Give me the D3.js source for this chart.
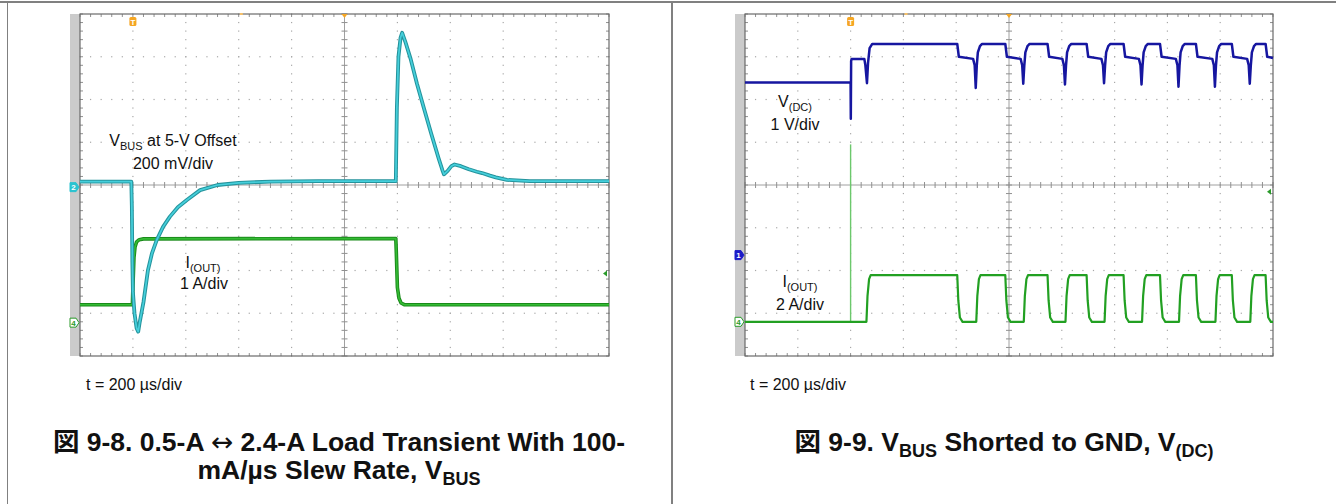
<!DOCTYPE html>
<html>
<head>
<meta charset="utf-8">
<script src="https://cdn.jsdelivr.net/npm/d3@7"></script>
<style>
body { margin: 0; background: #fff; }
text { font-family: "Liberation Sans", Arial, "Noto Sans CJK JP", sans-serif; fill: #111; }
</style>
</head>
<body>
<div id="fig"></div>
<script>
// all traces: [time in divisions (0..10), level in divisions from screen centre (-4..4)]

// Fig 9-8, VBUS at 5-V offset, 200 mV/div
var vbusPts = [[0,0.08],[0.97,0.08],[0.98,-0.5],[0.99,-1.8],[1.0,-2.5],[1.03,-3.0],[1.07,-3.35],[1.10,-3.43],
  [1.13,-3.2],[1.2,-2.74],[1.285,-1.99],[1.36,-1.6],[1.45,-1.29],[1.57,-0.98],[1.70,-0.74],[1.85,-0.52],
  [2.02,-0.35],[2.27,-0.12],[2.6,0.0],[3.0,0.05],[3.6,0.08],[4.5,0.09],[5.97,0.09],[5.99,1.8],[6.02,3.0],
  [6.06,3.45],[6.09,3.56],[6.15,3.35],[6.25,2.95],[6.37,2.37],[6.5,1.8],[6.64,1.2],[6.78,0.62],[6.85,0.35],
  [6.88,0.25],[6.95,0.33],[7.02,0.44],[7.08,0.48],[7.2,0.44],[7.35,0.37],[7.5,0.31],[7.6,0.28],[7.75,0.22],
  [7.86,0.18],[8.07,0.12],[8.5,0.09],[10,0.09]];

// Fig 9-8, I(OUT), 1 A/div
var ioutPts = [[0,-2.8],[0.99,-2.8],[1.0,-2.4],[1.02,-1.7],[1.04,-1.45],[1.07,-1.33],[1.12,-1.28],[1.2,-1.26],
  [5.97,-1.25],[5.98,-1.6],[6.0,-2.4],[6.03,-2.65],[6.07,-2.76],[6.13,-2.8],[10,-2.8]];

// Fig 9-9, V(DC), 1 V/div
var vdcPts = [[0,2.4],[2.0,2.4],[2.004,1.55],[2.01,2.9],[2.02,2.95],[2.26,2.95],[2.28,2.8],[2.31,2.38],[2.33,2.85],[2.36,3.2],[2.41,3.3],
  [4.02,3.3],[4.05,3.0],[4.32,2.95],[4.35,2.8],[4.37,2.27],[4.39,2.8],[4.41,3.1],[4.45,3.25],[4.49,3.3],
  [4.93,3.3],[4.96,3.0],[5.22,2.95],[5.25,2.8],[5.27,2.37],[5.29,2.8],[5.31,3.1],[5.35,3.25],[5.39,3.3],
  [5.73,3.3],[5.76,3.0],[6.01,2.95],[6.04,2.8],[6.06,2.35],[6.08,2.8],[6.10,3.1],[6.14,3.25],[6.18,3.3],
  [6.47,3.3],[6.50,3.0],[6.75,2.95],[6.78,2.8],[6.80,2.38],[6.82,2.8],[6.84,3.1],[6.88,3.25],[6.92,3.3],
  [7.17,3.3],[7.20,3.0],[7.46,2.95],[7.49,2.8],[7.51,2.35],[7.53,2.8],[7.55,3.1],[7.59,3.25],[7.63,3.3],
  [7.86,3.3],[7.89,3.0],[8.16,2.95],[8.19,2.8],[8.21,2.3],[8.23,2.8],[8.25,3.1],[8.29,3.25],[8.33,3.3],
  [8.54,3.3],[8.57,3.0],[8.85,2.95],[8.88,2.8],[8.90,2.3],[8.92,2.8],[8.94,3.1],[8.98,3.25],[9.02,3.3],
  [9.22,3.3],[9.25,3.0],[9.51,2.95],[9.54,2.8],[9.56,2.37],[9.58,2.8],[9.60,3.1],[9.64,3.25],[9.68,3.3],
  [9.86,3.3],[9.89,3.0],[10,2.97]];

// Fig 9-9, I(OUT), 2 A/div
var iout2Pts = [[0,-3.2],[2.30,-3.2],[2.32,-2.6],[2.35,-2.2],[2.38,-2.11],
  [4.02,-2.11],[4.04,-2.7],[4.07,-3.1],[4.12,-3.2],[4.38,-3.2],[4.40,-2.6],[4.43,-2.2],[4.46,-2.11],
  [4.93,-2.11],[4.95,-2.7],[4.98,-3.1],[5.03,-3.2],[5.28,-3.2],[5.30,-2.6],[5.33,-2.2],[5.36,-2.11],
  [5.73,-2.11],[5.75,-2.7],[5.78,-3.1],[5.83,-3.2],[6.07,-3.2],[6.09,-2.6],[6.12,-2.2],[6.15,-2.11],
  [6.47,-2.11],[6.49,-2.7],[6.52,-3.1],[6.57,-3.2],[6.81,-3.2],[6.83,-2.6],[6.86,-2.2],[6.89,-2.11],
  [7.17,-2.11],[7.19,-2.7],[7.22,-3.1],[7.27,-3.2],[7.52,-3.2],[7.54,-2.6],[7.57,-2.2],[7.60,-2.11],
  [7.86,-2.11],[7.88,-2.7],[7.91,-3.1],[7.96,-3.2],[8.22,-3.2],[8.24,-2.6],[8.27,-2.2],[8.30,-2.11],
  [8.54,-2.11],[8.56,-2.7],[8.59,-3.1],[8.64,-3.2],[8.91,-3.2],[8.93,-2.6],[8.96,-2.2],[8.99,-2.11],
  [9.22,-2.11],[9.24,-2.7],[9.27,-3.1],[9.32,-3.2],[9.57,-3.2],[9.59,-2.6],[9.62,-2.2],[9.65,-2.11],
  [9.86,-2.11],[9.88,-2.7],[9.91,-3.1],[9.96,-3.2],[10,-3.2]];
// short current spike when VBUS is shorted
var iout2Spike = [[2.0,-3.2],[2.0,0.95]];

// screen markers: trigger time, channel ground levels
var trigL = 1, trigR = 2;
var chMarksL = [{ch: "2", y: -0.05, fill: "#2bc3d0", outline: false}, {ch: "4", y: -3.22, fill: "#2a9a2a", outline: true}];
var chMarksR = [{ch: "1", y: -1.64, fill: "#1c1cc8", outline: false}, {ch: "4", y: -3.2, fill: "#2a9a2a", outline: true}];

var width = 1336, height = 504;
var scrTop = 14, scrBottom = 356;

var svg = d3.select("#fig").append("svg")
    .attr("width", width)
    .attr("height", height);

// page frame (table borders)
svg.append("line").attr("x1", 0).attr("x2", width).attr("y1", 2).attr("y2", 2)
    .style("stroke", "#808080").style("stroke-width", 2);
svg.append("line").attr("x1", 7.5).attr("x2", 7.5).attr("y1", 2).attr("y2", height)
    .style("stroke", "#808080").style("stroke-width", 1);
svg.append("line").attr("x1", 672).attr("x2", 672).attr("y1", 2).attr("y2", height)
    .style("stroke", "#808080").style("stroke-width", 2);

function drawScope(x, y) {
  var g = svg.append("g");
  var x0 = x.range()[0], x1 = x.range()[1];
  var minorX = d3.range(0, 10.001, 0.2), minorY = d3.range(-4, 4.001, 0.2);

  // grey strip left of the screen
  g.append("rect").attr("x", x0 - 10).attr("y", scrTop).attr("width", 10).attr("height", scrBottom - scrTop)
      .style("fill", "#cbcbcb");

  // dotted graticule
  x.ticks(10).forEach(function(t) {
    if (t == 0 || t == 5 || t == 10) return;
    g.selectAll(null).data(minorY).enter().append("rect")
        .attr("x", x(t) - 0.6).attr("y", function(d) { return y(d) - 0.6; })
        .attr("width", 1.2).attr("height", 1.2).style("fill", "#a8a8a8");
  });
  y.ticks(8).forEach(function(t) {
    if (t == 0 || t == -4 || t == 4) return;
    g.selectAll(null).data(minorX).enter().append("rect")
        .attr("x", function(d) { return x(d) - 0.6; }).attr("y", y(t) - 0.6)
        .attr("width", 1.2).attr("height", 1.2).style("fill", "#a8a8a8");
  });

  // centre cross with minor ticks
  g.append("line").attr("x1", x0).attr("x2", x1).attr("y1", y(0)).attr("y2", y(0))
      .style("stroke", "#a0a0a0").style("stroke-width", 1);
  g.append("line").attr("x1", x(5)).attr("x2", x(5)).attr("y1", scrTop).attr("y2", scrBottom)
      .style("stroke", "#a0a0a0").style("stroke-width", 1);
  g.selectAll(null).data(minorX).enter().append("line")
      .attr("x1", function(d) { return x(d); }).attr("x2", function(d) { return x(d); })
      .attr("y1", y(0) - 3).attr("y2", y(0) + 3).style("stroke", "#909090");
  g.selectAll(null).data(minorY).enter().append("line")
      .attr("x1", x(5) - 3).attr("x2", x(5) + 3)
      .attr("y1", function(d) { return y(d); }).attr("y2", function(d) { return y(d); }).style("stroke", "#909090");

  // ticks on the frame edges
  g.selectAll(null).data(minorX).enter().append("line")
      .attr("x1", function(d) { return x(d); }).attr("x2", function(d) { return x(d); })
      .attr("y1", scrTop).attr("y2", scrTop + 3).style("stroke", "#909090");
  g.selectAll(null).data(minorX).enter().append("line")
      .attr("x1", function(d) { return x(d); }).attr("x2", function(d) { return x(d); })
      .attr("y1", scrBottom - 3).attr("y2", scrBottom).style("stroke", "#909090");
  g.selectAll(null).data(minorY).enter().append("line")
      .attr("x1", x0).attr("x2", x0 + 3)
      .attr("y1", function(d) { return y(d); }).attr("y2", function(d) { return y(d); }).style("stroke", "#909090");
  g.selectAll(null).data(minorY).enter().append("line")
      .attr("x1", x1 - 3).attr("x2", x1)
      .attr("y1", function(d) { return y(d); }).attr("y2", function(d) { return y(d); }).style("stroke", "#909090");

  g.append("rect").attr("x", x0).attr("y", scrTop).attr("width", x1 - x0).attr("height", scrBottom - scrTop)
      .style("fill", "none").style("stroke", "#6a6a6a").style("stroke-width", 1.2);

  // orange markers along the top edge
  g.append("path")
      .attr("d", "M" + (x(5) - 3) + "," + scrTop + "L" + (x(5) + 3) + "," + scrTop + "L" + x(5) + "," + (scrTop + 4) + "Z")
      .style("fill", "#f5a623");
  g.append("rect").attr("x", x(3.05) - 1.5).attr("y", scrTop - 1).attr("width", 3).attr("height", 2)
      .style("fill", "#f5c06a");
  return g;
}

function trace(g, x, y, pts, dark, light, w) {
  var line = d3.line()
      .x(function(d) { return x(d[0]); })
      .y(function(d) { return y(d[1]); });
  g.append("path").datum(pts).attr("d", line)
      .style("fill", "none").style("stroke", dark).style("stroke-width", w)
      .style("stroke-linejoin", "round");
  if (light)
    g.append("path").datum(pts).attr("d", line)
        .style("fill", "none").style("stroke", light).style("stroke-width", w * 0.45)
        .style("stroke-linejoin", "round");
}

function trigMark(g, x, t) {
  g.append("rect").attr("x", x(t) - 3.5).attr("y", 17).attr("width", 7).attr("height", 9).attr("rx", 1.5)
      .style("fill", "#f5a623");
  g.append("text").attr("x", x(t)).attr("y", 24.5).attr("text-anchor", "middle")
      .style("font-size", "8px").style("font-weight", "bold").style("fill", "#fff").text("T");
}

function chMark(g, x, y, m) {
  var x0 = x.range()[0];
  var yy = y(m.y);
  g.append("path")
      .attr("d", "M" + (x0 - 10) + "," + (yy - 4.5) + "L" + (x0 - 4) + "," + (yy - 4.5) + "L" + (x0 - 1) + "," + yy +
            "L" + (x0 - 4) + "," + (yy + 4.5) + "L" + (x0 - 10) + "," + (yy + 4.5) + "Z")
      .style("fill", m.outline ? "#fff" : m.fill).style("stroke", m.fill).style("stroke-width", 1);
  g.append("text").attr("x", x0 - 6.5).attr("y", yy + 3).attr("text-anchor", "middle")
      .style("font-size", "8px").style("font-weight", "bold").style("fill", m.outline ? m.fill : "#fff").text(m.ch);
}

function rightArrow(g, x, y, v) {
  var x1 = x.range()[1], yy = y(v);
  g.append("path").attr("d", "M" + (x1 - 6) + "," + yy + "L" + (x1 - 2) + "," + (yy - 3) + "L" + (x1 - 2) + "," + (yy + 3) + "Z")
      .style("fill", "#2a9a2a");
}

// ---- Fig 9-8 ----
var xL = d3.scaleLinear().domain([0, 10]).range([80, 609]);
var yL = d3.scaleLinear().domain([-4, 4]).range([scrBottom, scrTop]);
var gL = drawScope(xL, yL);
trace(gL, xL, yL, ioutPts, "#1a8a1a", "#34bb34", 3.6);
trace(gL, xL, yL, vbusPts, "#24939c", "#45cfdb", 3.8);
trigMark(gL, xL, trigL);
chMarksL.forEach(function(m) { chMark(gL, xL, yL, m); });
rightArrow(gL, xL, yL, -2.07);

var t1 = gL.append("text").attr("x", 173).attr("y", 146).attr("text-anchor", "middle").style("font-size", "16px");
t1.append("tspan").text("V");
t1.append("tspan").attr("dy", 4).style("font-size", "11px").text("BUS");
t1.append("tspan").attr("dy", -4).text(" at 5-V Offset");
gL.append("text").attr("x", 173).attr("y", 169).attr("text-anchor", "middle").style("font-size", "16px").text("200 mV/div");
var t2 = gL.append("text").attr("x", 203).attr("y", 268).attr("text-anchor", "middle").style("font-size", "16px");
t2.append("tspan").text("I");
t2.append("tspan").attr("dy", 4).style("font-size", "11px").text("(OUT)");
gL.append("text").attr("x", 204).attr("y", 289).attr("text-anchor", "middle").style("font-size", "16px").text("1 A/div");

// ---- Fig 9-9 ----
var xR = d3.scaleLinear().domain([0, 10]).range([745, 1273]);
var yR = d3.scaleLinear().domain([-4, 4]).range([scrBottom, scrTop]);
var gR = drawScope(xR, yR);
trace(gR, xR, yR, iout2Spike, "#6cc86c", null, 1.4);
trace(gR, xR, yR, iout2Pts, "#22a022", null, 2.2);
trace(gR, xR, yR, vdcPts, "#1616a0", null, 2.5);
trigMark(gR, xR, trigR);
chMarksR.forEach(function(m) { chMark(gR, xR, yR, m); });
rightArrow(gR, xR, yR, -0.16);

var t3 = gR.append("text").attr("x", 795).attr("y", 107).attr("text-anchor", "middle").style("font-size", "16px");
t3.append("tspan").text("V");
t3.append("tspan").attr("dy", 4).style("font-size", "11px").text("(DC)");
gR.append("text").attr("x", 795).attr("y", 130).attr("text-anchor", "middle").style("font-size", "16px").text("1 V/div");
var t4 = gR.append("text").attr("x", 800).attr("y", 287).attr("text-anchor", "middle").style("font-size", "16px");
t4.append("tspan").text("I");
t4.append("tspan").attr("dy", 4).style("font-size", "11px").text("(OUT)");
gR.append("text").attr("x", 800).attr("y", 310).attr("text-anchor", "middle").style("font-size", "16px").text("2 A/div");

// time base and captions
svg.append("text").attr("x", 86).attr("y", 390).style("font-size", "16px").text("t = 200 µs/div");
svg.append("text").attr("x", 750).attr("y", 390).style("font-size", "16px").text("t = 200 µs/div");

var capSize = "26.5px", subSize = "18px";
var c1 = svg.append("text").attr("x", 339).attr("y", 451).attr("text-anchor", "middle")
    .style("font-size", capSize).style("font-weight", "bold");
c1.append("tspan").text("図 9-8. 0.5-A ");
c1.append("tspan").style("font-family", "DejaVu Sans").style("font-weight", "normal").text("↔");
c1.append("tspan").text(" 2.4-A Load Transient With 100-");
var c2 = svg.append("text").attr("x", 339).attr("y", 479).attr("text-anchor", "middle")
    .style("font-size", capSize).style("font-weight", "bold");
c2.append("tspan").text("mA/µs Slew Rate, V");
c2.append("tspan").attr("dy", 6).style("font-size", subSize).text("BUS");
var c3 = svg.append("text").attr("x", 1004).attr("y", 451).attr("text-anchor", "middle")
    .style("font-size", capSize).style("font-weight", "bold");
c3.append("tspan").text("図 9-9. V");
c3.append("tspan").attr("dy", 6).style("font-size", subSize).text("BUS");
c3.append("tspan").attr("dy", -6).text(" Shorted to GND, V");
c3.append("tspan").attr("dy", 6).style("font-size", subSize).text("(DC)");
</script>
</body>
</html>
